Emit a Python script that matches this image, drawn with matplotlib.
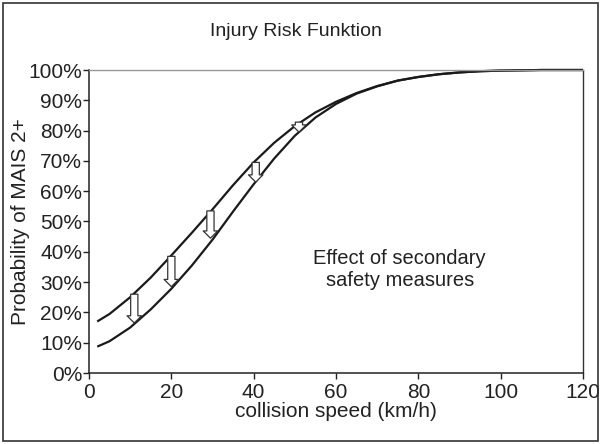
import matplotlib
matplotlib.use("Agg")
import matplotlib.pyplot as plt
import matplotlib.patches as mpatches
from matplotlib.ticker import FuncFormatter

plt.rcParams['font.family'] = ['Liberation Sans', 'DejaVu Sans']

# Data
speed_upper = [2, 5, 10, 15, 20, 25, 30, 35, 40, 45, 50, 55, 60, 65, 70, 75, 80, 85, 90, 95, 100, 110, 120]
risk_upper = [17.0, 19.5, 25.0, 31.5, 38.8, 46.3, 54.0, 62.0, 69.5, 76.0, 81.5, 86.0, 89.5, 92.4, 94.7, 96.5, 97.7, 98.6, 99.2, 99.6, 99.8, 100.0, 100.0]

speed_lower = [2, 5, 10, 15, 20, 25, 30, 35, 40, 45, 50, 55, 60, 65, 70, 75, 80, 85, 90, 95, 100, 110, 120]
risk_lower = [8.7, 10.5, 15.0, 21.0, 27.8, 35.5, 44.0, 53.3, 62.3, 70.8, 78.3, 84.3, 88.8, 92.2, 94.6, 96.5, 97.7, 98.6, 99.2, 99.6, 99.8, 100.0, 100.0]

arrow_speed = [11, 20, 29.5, 40.5, 51]
arrow_from = [26.0, 38.5, 53.5, 69.5, 82.8]
arrow_to = [16.5, 28.5, 44.5, 63.0, 79.5]

title = "Injury Risk Funktion"
xlabel = "collision speed (km/h)"
ylabel = "Probability of MAIS 2+"
note = "Effect of secondary\nsafety measures"
xticks = [0, 20, 40, 60, 80, 100, 120]
yticks = [0, 10, 20, 30, 40, 50, 60, 70, 80, 90, 100]

txt = '#222222'
fig = plt.figure(figsize=(6.03, 4.44), dpi=100)
ax = fig.add_axes([89/603, (444-373)/444, (583-89)/603, (373-70)/444])

ax.plot(speed_upper, risk_upper, color='#1a1a1a', lw=1.6, solid_capstyle='butt', clip_on=False)
ax.plot(speed_lower, risk_lower, color='#1a1a1a', lw=1.6, solid_capstyle='butt', clip_on=False)

for xs, y0, y1 in zip(arrow_speed, arrow_from, arrow_to):
    arr = mpatches.FancyArrowPatch((xs, y0), (xs, y1),
                                   arrowstyle='simple,head_length=0.4,head_width=0.8,tail_width=0.4',
                                   mutation_scale=13, facecolor='white', edgecolor='#333333',
                                   lw=0.9, shrinkA=0, shrinkB=0, zorder=5)
    ax.add_patch(arr)

ax.set_xlim(0, 120)
ax.set_ylim(0, 100)
ax.set_xticks(xticks)
ax.set_yticks(yticks)
ax.yaxis.set_major_formatter(FuncFormatter(lambda v, p: f"{int(v)}%"))
ax.tick_params(axis='both', direction='out', length=4, width=1, colors='#222222', labelsize=15, labelcolor=txt, pad=1)
ax.tick_params(axis='x', pad=3)

for s in ['left', 'bottom']:
    ax.spines[s].set_color('#222222')
    ax.spines[s].set_linewidth(1.1)
ax.spines['top'].set_color('#999999')
ax.spines['top'].set_linewidth(1.0)
ax.spines['right'].set_color('#333333')
ax.spines['right'].set_linewidth(1.0)

ax.set_xlabel(xlabel, fontsize=15, color=txt, labelpad=0)
ax.set_ylabel(ylabel, fontsize=15, color=txt, labelpad=-1)
fig.text(0.49, 1 - 32/444, title, ha='center', va='center', fontsize=14, color=txt)
ax.text(75.5, 34, note, ha='center', va='center', fontsize=14.5, color=txt, linespacing=1.2)

# outer border
border = mpatches.Rectangle((3/603, 3/444), 595/603, 438/444, transform=fig.transFigure,
                            fill=False, edgecolor='#333333', lw=1.2)
fig.patches.append(border)

fig.savefig("out.png", dpi=100)
